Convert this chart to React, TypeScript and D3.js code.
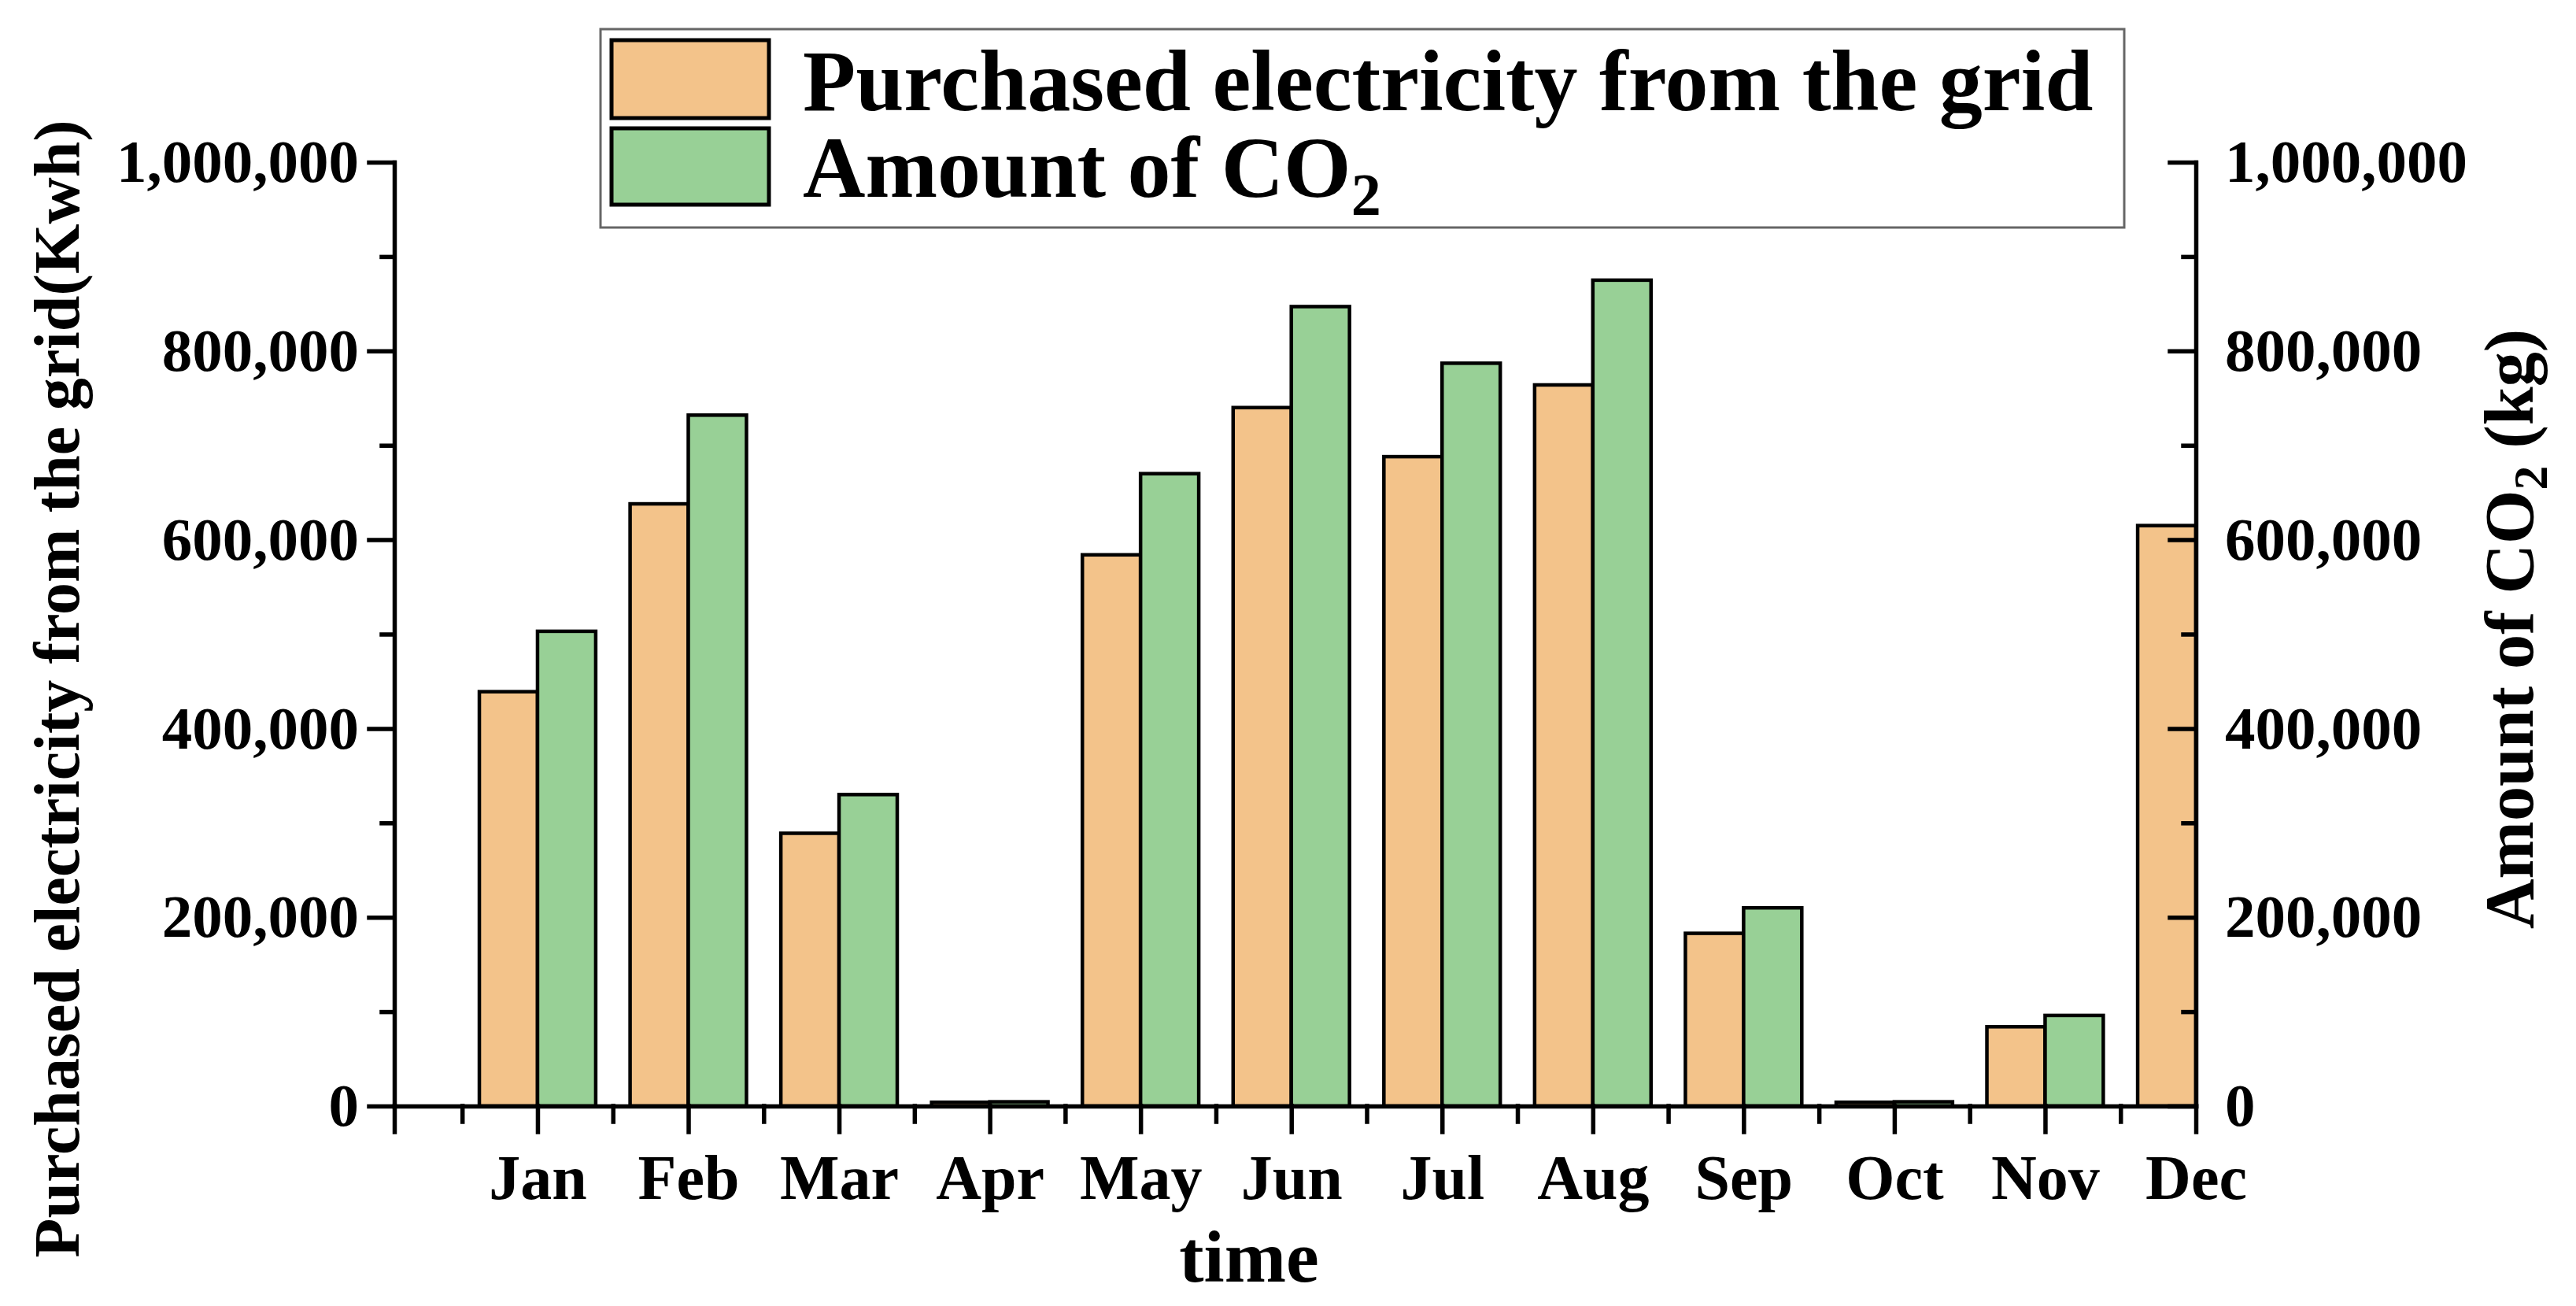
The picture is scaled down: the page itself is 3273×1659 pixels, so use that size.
import { useRef, useEffect } from "react";
import * as d3 from "d3";

const months = ["Jan", "Feb", "Mar", "Apr", "May", "Jun", "Jul", "Aug", "Sep", "Oct", "Nov", "Dec"];
// Purchased electricity from the grid (kWh)
const electricity = [439000, 638000, 289000, 4000, 584000, 740000, 688000, 764000, 183000, 4000, 84000, 615000];
// Amount of CO2 (kg); the Dec bar falls outside the plot and is not visible
const co2: (number | null)[] = [503000, 732000, 330000, 4500, 670000, 847000, 787000, 875000, 210000, 4500, 96000, null];
const yMajor = [0, 200000, 400000, 600000, 800000, 1000000];
const yMinor = [100000, 300000, 500000, 700000, 900000];

const W = 3273;
const H = 1659;
const font = "'Liberation Serif', 'Times New Roman', serif";
const orange = "#f3c38a";
const green = "#98d096";

export default function App() {
  const svgRef = useRef<SVGSVGElement>(null);

  useEffect(() => {
    if (!svgRef.current) return;
    const svg = d3.select(svgRef.current);
    svg.selectAll("*").remove();

    svg.append("rect").attr("width", W).attr("height", H).attr("fill", "#fff");

    const x = d3.scaleLinear().domain([0.05, 12]).range([501, 2790]);
    const y = d3.scaleLinear().domain([0, 1000000]).range([1405, 206]);
    const bw = x(0.386) - x(0);

    svg
      .append("clipPath")
      .attr("id", "plot-clip")
      .append("rect")
      .attr("x", x(0.05))
      .attr("y", 0)
      .attr("width", x(12) - x(0.05))
      .attr("height", y(0));

    const plot = svg.append("g").attr("clip-path", "url(#plot-clip)");

    plot
      .selectAll(".elec")
      .data(electricity)
      .join("rect")
      .attr("class", "elec")
      .attr("x", (_, i) => x(i + 1) - bw)
      .attr("y", (d) => y(d))
      .attr("width", bw)
      .attr("height", (d) => y(0) - y(d))
      .attr("fill", orange)
      .attr("stroke", "#000")
      .attr("stroke-width", 4.5);

    const co2Pts = co2
      .map((v, i) => ({ v, i }))
      .filter((d): d is { v: number; i: number } => d.v !== null);

    plot
      .selectAll(".co2")
      .data(co2Pts)
      .join("rect")
      .attr("class", "co2")
      .attr("x", (d) => x(d.i + 1))
      .attr("y", (d) => y(d.v))
      .attr("width", bw)
      .attr("height", (d) => y(0) - y(d.v))
      .attr("fill", green)
      .attr("stroke", "#000")
      .attr("stroke-width", 4.5);

    const styleAxis = (g: d3.Selection<SVGGElement, unknown, null, undefined>, size: number) => {
      g.attr("font-family", font).attr("font-size", size).attr("font-weight", "bold");
      g.selectAll("path, line").attr("stroke", "#000").attr("stroke-width", 5.5).attr("stroke-linecap", "square");
      g.selectAll("text").attr("fill", "#000");
    };

    // left axis
    const left = svg
      .append("g")
      .attr("transform", `translate(${x(0.05)},0)`)
      .call(
        d3
          .axisLeft(y)
          .tickValues(yMajor)
          .tickSize(32)
          .tickSizeOuter(0)
          .tickPadding(13)
          .tickFormat((d) => d3.format(",")(d as number))
      );
    styleAxis(left, 77);

    const leftMinor = svg
      .append("g")
      .attr("transform", `translate(${x(0.05)},0)`)
      .call(d3.axisLeft(y).tickValues(yMinor).tickSize(16).tickFormat(() => ""));
    leftMinor.select(".domain").remove();
    styleAxis(leftMinor, 77);

    // right axis, ticks pointing inward
    const right = svg
      .append("g")
      .attr("transform", `translate(${x(12)},0)`)
      .call(
        d3
          .axisRight(y)
          .tickValues(yMajor)
          .tickSize(-33)
          .tickSizeOuter(0)
          .tickPadding(37)
          .tickFormat((d) => d3.format(",")(d as number))
      );
    styleAxis(right, 77);

    const rightMinor = svg
      .append("g")
      .attr("transform", `translate(${x(12)},0)`)
      .call(d3.axisRight(y).tickValues(yMinor).tickSize(-16).tickFormat(() => ""));
    rightMinor.select(".domain").remove();
    styleAxis(rightMinor, 77);

    // bottom axis
    const bottom = svg
      .append("g")
      .attr("transform", `translate(0,${y(0)})`)
      .call(
        d3
          .axisBottom(x)
          .tickValues([0.05, ...d3.range(1, 13)])
          .tickSize(33)
          .tickSizeOuter(0)
          .tickPadding(28)
          .tickFormat((d) => months[(d as number) - 1] ?? "")
      );
    styleAxis(bottom, 80);

    const bottomMinor = svg
      .append("g")
      .attr("transform", `translate(0,${y(0)})`)
      .call(d3.axisBottom(x).tickValues(d3.range(0.5, 12, 1)).tickSize(20).tickFormat(() => ""));
    bottomMinor.select(".domain").remove();
    styleAxis(bottomMinor, 80);

    // axis titles
    svg
      .append("text")
      .attr("x", 1587)
      .attr("y", 1628)
      .attr("text-anchor", "middle")
      .attr("font-family", font)
      .attr("font-weight", "bold")
      .attr("font-size", 94)
      .text("time");

    svg
      .append("text")
      .attr("transform", "translate(100,875) rotate(-90)")
      .attr("text-anchor", "middle")
      .attr("font-family", font)
      .attr("font-weight", "bold")
      .attr("font-size", 82)
      .text("Purchased electricity from the grid(Kwh)");

    const rt = svg
      .append("text")
      .attr("transform", "translate(3218,799) rotate(-90)")
      .attr("text-anchor", "middle")
      .attr("font-family", font)
      .attr("font-weight", "bold")
      .attr("font-size", 88);
    rt.append("tspan").text("Amount of CO");
    rt.append("tspan").attr("dy", 18).attr("font-size", 62).text("2");
    rt.append("tspan").attr("dy", -18).text(" (kg)");

    // legend
    const legend = svg.append("g");
    legend
      .append("rect")
      .attr("x", 763)
      .attr("y", 37)
      .attr("width", 1936)
      .attr("height", 252)
      .attr("fill", "#fff")
      .attr("stroke", "#666")
      .attr("stroke-width", 3);

    const items = [
      { label: "Purchased electricity from the grid", sub: "", color: orange, top: 51, h: 99, base: 140 },
      { label: "Amount of CO", sub: "2", color: green, top: 163, h: 97, base: 250 },
    ];
    items.forEach((it) => {
      legend
        .append("rect")
        .attr("x", 777)
        .attr("y", it.top)
        .attr("width", 200)
        .attr("height", it.h)
        .attr("fill", it.color)
        .attr("stroke", "#000")
        .attr("stroke-width", 5);
      const t = legend
        .append("text")
        .attr("x", 1020)
        .attr("y", it.base)
        .attr("font-family", font)
        .attr("font-weight", "bold")
        .attr("font-size", 110);
      t.append("tspan").text(it.label);
      if (it.sub) t.append("tspan").attr("dy", 23).attr("font-size", 76).text(it.sub);
    });
  }, []);

  return (
    <svg
      ref={svgRef}
      width={W}
      height={H}
      style={{ position: "absolute", left: 0, top: 0, display: "block" }}
      role="img"
      aria-label="Monthly purchased electricity and CO2 amount"
    />
  );
}
